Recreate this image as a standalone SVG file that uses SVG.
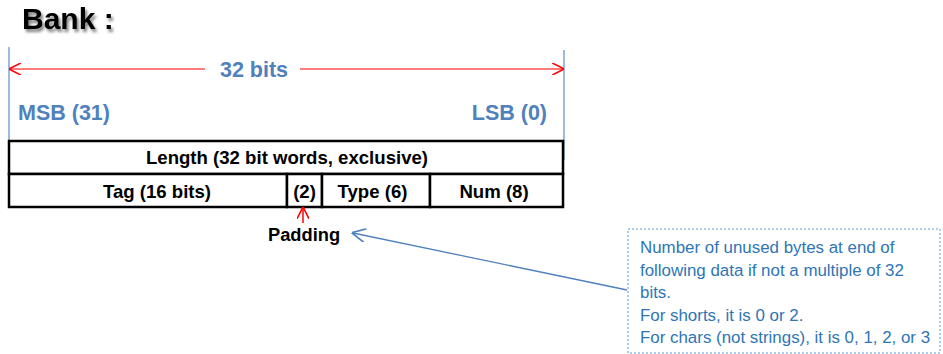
<svg xmlns="http://www.w3.org/2000/svg" width="943" height="354" viewBox="0 0 943 354">
<style>
.b{font-family:"Liberation Sans",Arial,sans-serif;font-weight:bold}
.blue{fill:#4f81bd;font-size:21.5px}
.cell{fill:#000;font-size:18.6px;text-anchor:middle}
.note{font-family:"Liberation Sans",Arial,sans-serif;font-size:16.9px;fill:#2e75b6}
</style>
<defs>
<marker id="ra" viewBox="0 0 10 10" refX="9" refY="5" markerWidth="12" markerHeight="12" markerUnits="userSpaceOnUse" orient="auto-start-reverse"><path d="M0,0 L10,5 L0,10" fill="none" stroke="#ff0000" stroke-width="1.3"/></marker>
<marker id="ba" viewBox="0 0 10 10" refX="9" refY="5" markerWidth="14" markerHeight="14" markerUnits="userSpaceOnUse" orient="auto"><path d="M0,0 L10,5 L0,10" fill="none" stroke="#4f81bd" stroke-width="1.2"/></marker>
<filter id="sh" x="-10%" y="-10%" width="130%" height="150%"><feGaussianBlur in="SourceAlpha" stdDeviation="1.5"/><feOffset dx="2" dy="3"/><feComponentTransfer><feFuncA type="linear" slope="0.5"/></feComponentTransfer><feMerge><feMergeNode/><feMergeNode in="SourceGraphic"/></feMerge></filter>
</defs>
<rect width="943" height="354" fill="#fff"/>
<text x="22" y="29" class="b" font-size="30" fill="#000" filter="url(#sh)">Bank :</text>
<g id="ruler">
<line x1="9" y1="47" x2="9" y2="141" stroke="#7fa3d4" stroke-width="1.5"/>
<line x1="564" y1="50" x2="564" y2="160" stroke="#7fa3d4" stroke-width="1.5"/>
<text x="254" y="77" class="b blue" text-anchor="middle">32 bits</text>
<text x="18" y="120" class="b blue">MSB (31)</text>
<text x="547" y="120" class="b blue" text-anchor="end">LSB (0)</text>
</g>
<g id="length">
<rect x="9" y="141" width="554" height="33" fill="#fff" stroke="#000" stroke-width="2.5"/>
<text x="287" y="164" class="b cell">Length (32 bit words, exclusive)</text>
</g>
<g id="tag">
<rect x="9" y="174" width="278" height="33" fill="#fff" stroke="#000" stroke-width="2.5"/>
<text x="157" y="198" class="b cell">Tag (16 bits)</text>
</g>
<g id="pad">
<rect x="287" y="174" width="35" height="33" fill="#fff" stroke="#000" stroke-width="2.5"/>
<text x="304.5" y="198" class="b cell">(2)</text>
</g>
<g id="type">
<rect x="322" y="174" width="108" height="33" fill="#fff" stroke="#000" stroke-width="2.5"/>
<text x="372.5" y="198" class="b cell">Type (6)</text>
</g>
<g id="num">
<rect x="430" y="174" width="133" height="33" fill="#fff" stroke="#000" stroke-width="2.5"/>
<text x="494" y="198" class="b cell">Num (8)</text>
</g>
<g id="padding">
<text x="304" y="241" class="b" font-size="18.3" text-anchor="middle" fill="#000">Padding</text>
</g>
<g id="note">
<rect x="628" y="229" width="312" height="124" fill="#fff" stroke="#5b9bd5" stroke-width="1" stroke-dasharray="2,2"/>
<text class="note" x="640" y="253">Number of unused bytes at end of</text>
<text class="note" x="640" y="276">following data if not a multiple of 32</text>
<text class="note" x="640" y="298">bits.</text>
<text class="note" x="640" y="321">For shorts, it is 0 or 2.</text>
<text class="note" x="640" y="343">For chars (not strings), it is 0, 1, 2, or 3</text>
</g>
<g id="connectors">
<line x1="205" y1="69" x2="10" y2="69" stroke="#ff5050" stroke-width="1.5" marker-end="url(#ra)"/>
<line x1="300" y1="69" x2="563" y2="69" stroke="#ff5050" stroke-width="1.5" marker-end="url(#ra)"/>
<line x1="303" y1="223" x2="303" y2="208" stroke="#ff0000" stroke-width="1.5" marker-end="url(#ra)"/>
<line x1="627" y1="290" x2="353" y2="233" stroke="#4f81bd" stroke-width="1.3" marker-end="url(#ba)"/>
</g>
</svg>
